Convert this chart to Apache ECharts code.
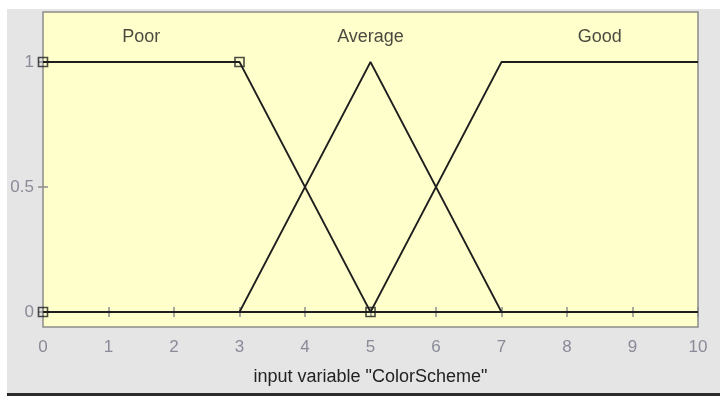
<!DOCTYPE html>
<html>
<head>
<meta charset="utf-8">
<script src="https://cdn.jsdelivr.net/npm/echarts@6/dist/echarts.min.js"></script>
<style>
  html, body { margin: 0; padding: 0; background: #fff; }
  #main { width: 720px; height: 396px; }
</style>
</head>
<body>
<div id="main"></div>
<script>
  // membership functions of input "ColorScheme"
  var mfNames = ['Poor', 'Average', 'Good'];
  var poorX = [0, 3, 5, 10];
  var poorY = [1, 1, 0, 0];
  var averageX = [0, 3, 5, 7, 10];
  var averageY = [0, 0, 1, 0, 0];
  var goodX = [0, 5, 7, 10];
  var goodY = [0, 0, 1, 1];
  // selected MF handles
  var handleX = [0, 3, 5, 0];
  var handleY = [1, 1, 0, 0];
  // MF name positions
  var nameX = [1.5, 5, 8.5];
  var nameY = 1.1;
  var xTicks = [0, 1, 2, 3, 4, 5, 6, 7, 8, 9, 10];
  var yTicks = [0, 0.5, 1];

  function pairs(xs, ys) {
    return xs.map(function (x, i) { return [x, ys[i]]; });
  }

  var lineColor = '#1e1e1e';
  var tickColor = '#8a8a98';

  var myChart = echarts.init(document.getElementById('main'));
  myChart.setOption({
    backgroundColor: '#ffffff',
    animation: false,
    textStyle: { fontFamily: 'Liberation Sans, Arial, sans-serif' },
    graphic: [
      { type: 'rect', z: -10, shape: { x: 7, y: 9, width: 713, height: 384 }, style: { fill: '#e5e5e5' } },
      { type: 'rect', z: -10, shape: { x: 7, y: 393, width: 713, height: 3 }, style: { fill: '#2b2b2b' } }
    ],
    grid: {
      left: 43, top: 12, right: 22, bottom: 69,
      show: true,
      backgroundColor: '#ffffcc',
      borderColor: '#8c8c8c',
      borderWidth: 1.5
    },
    xAxis: [
      {
        type: 'value', min: 0, max: 10, interval: 1,
        name: 'input variable "ColorScheme"',
        nameLocation: 'middle', nameGap: 41,
        nameTextStyle: { color: '#222', fontSize: 18 },
        axisLine: { show: false },
        axisTick: { show: true, inside: true, length: 5, lineStyle: { color: '#8c8c8c', width: 1.5 }, customValues: xTicks },
        axisLabel: { color: tickColor, fontSize: 17, margin: 12, customValues: xTicks },
        splitLine: { show: false }
      },
      {
        type: 'value', min: 0, max: 10, interval: 1, position: 'top',
        axisLine: { show: false },
        axisTick: { show: true, inside: true, length: 5, lineStyle: { color: '#8c8c8c', width: 1.5 } },
        axisLabel: { show: false },
        splitLine: { show: false }
      }
    ],
    yAxis: [
      {
        type: 'value', min: -0.06, max: 1.2,
        axisLine: { show: false },
        axisTick: { show: true, inside: true, length: 5, lineStyle: { color: '#8c8c8c', width: 1.5 }, customValues: yTicks },
        axisLabel: { color: tickColor, fontSize: 17, margin: 9, customValues: yTicks },
        splitLine: { show: false }
      },
      {
        type: 'value', min: -0.06, max: 1.2, position: 'right',
        axisLine: { show: false },
        axisTick: { show: true, inside: true, length: 5, lineStyle: { color: '#8c8c8c', width: 1.5 }, customValues: yTicks },
        axisLabel: { show: false },
        splitLine: { show: false }
      }
    ],
    series: [
      {
        name: mfNames[0], type: 'line', showSymbol: false,
        lineStyle: { color: lineColor, width: 1.8 },
        data: pairs(poorX, poorY)
      },
      {
        name: mfNames[1], type: 'line', showSymbol: false,
        lineStyle: { color: lineColor, width: 1.8 },
        data: pairs(averageX, averageY)
      },
      {
        name: mfNames[2], type: 'line', showSymbol: false,
        lineStyle: { color: lineColor, width: 1.8 },
        data: pairs(goodX, goodY)
      },
      {
        type: 'scatter', symbol: 'rect', symbolSize: 9,
        itemStyle: { color: 'rgba(0,0,0,0)', borderColor: lineColor, borderWidth: 1.6 },
        data: pairs(handleX, handleY),
        z: 5
      },
      {
        type: 'scatter', symbolSize: 0,
        label: {
          show: true, position: 'inside', color: '#1a1a1a', fontSize: 18,
          formatter: function (p) { return p.name; }
        },
        data: mfNames.map(function (n, i) { return { name: n, value: [nameX[i], nameY] }; })
      }
    ]
  });
</script>
</body>
</html>
